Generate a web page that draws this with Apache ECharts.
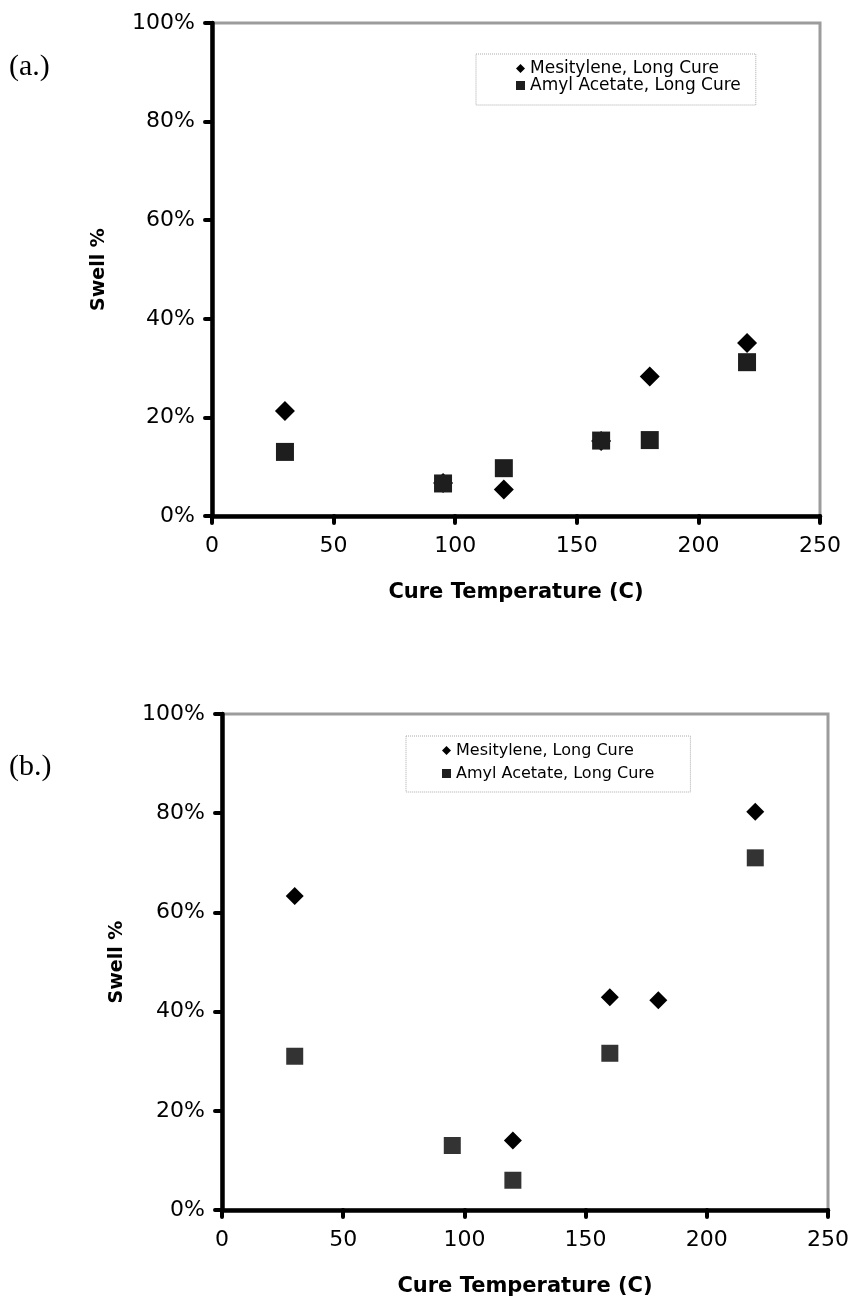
<!DOCTYPE html>
<html>
<head>
<meta charset="utf-8">
<script src="https://cdn.jsdelivr.net/npm/echarts@6/dist/echarts.min.js"></script>
<style>
  html, body { margin: 0; padding: 0; background: #fff; }
  #chart { width: 857px; height: 1298px; }
</style>
</head>
<body>
<div id="chart"></div>
<script>
// ---- data ----
const seriesNames = ['Mesitylene, Long Cure', 'Amyl Acetate, Long Cure'];
const xTicks = [0, 50, 100, 150, 200, 250];
const yTicks = [0, 20, 40, 60, 80, 100];

// (a.)
const aMesTemps  = [30, 95, 120, 160, 180, 220];
const aMesSwell  = [21.3, 6.7, 5.4, 15.2, 28.3, 35.1];
const aAmylTemps = [30, 95, 120, 160, 180, 220];
const aAmylSwell = [13.0, 6.6, 9.7, 15.3, 15.4, 31.2];

// (b.)
const bMesTemps  = [30, 120, 160, 180, 220];
const bMesSwell  = [63.3, 14.0, 42.9, 42.3, 80.3];
const bAmylTemps = [30, 95, 120, 160, 220];
const bAmylSwell = [31.0, 13.0, 6.0, 31.6, 71.0];

const pairs = (xs, ys) => xs.map((x, i) => [x, ys[i]]);

const FONT = 'DejaVu Sans';

function xAxisFor(gridIndex) {
  return {
    gridIndex, type: 'value',
    min: xTicks[0], max: xTicks[xTicks.length - 1], interval: xTicks[1] - xTicks[0],
    name: 'Cure Temperature (C)', nameLocation: 'middle', nameGap: 66,
    nameTextStyle: { fontFamily: FONT, fontWeight: 'bold', fontSize: 21, color: '#000' },
    axisLine: { show: true, lineStyle: { color: '#000', width: 4.5 } },
    axisTick: { show: true, length: 7, lineStyle: { color: '#000', width: 4, cap: 'round' } },
    axisLabel: { fontFamily: FONT, fontSize: 22, color: '#000', margin: 19 },
    splitLine: { show: false }
  };
}
function yAxisFor(gridIndex, nameGap) {
  return {
    gridIndex, type: 'value',
    min: yTicks[0], max: yTicks[yTicks.length - 1], interval: yTicks[1] - yTicks[0],
    name: 'Swell %', nameLocation: 'middle', nameGap, nameRotate: 90,
    nameTextStyle: { fontFamily: FONT, fontWeight: 'bold', fontSize: 19, color: '#000' },
    axisLine: { show: true, lineStyle: { color: '#000', width: 4.5 } },
    axisTick: { show: true, length: 7, lineStyle: { color: '#000', width: 4, cap: 'round' } },
    axisLabel: { fontFamily: FONT, fontSize: 22, color: '#000', margin: 17, formatter: '{value}%' },
    splitLine: { show: false }
  };
}
function legendFor(pos, fontSize, gap, padding) {
  return Object.assign({
    orient: 'vertical',
    itemWidth: 9, itemHeight: 9, itemGap: gap,
    padding,
    borderColor: '#aaa', borderWidth: 1, borderType: 'dotted',
    backgroundColor: '#fff',
    textStyle: { fontFamily: FONT, fontSize, color: '#000', lineHeight: 17 },
    data: [
      { name: seriesNames[0], icon: 'diamond' },
      { name: seriesNames[1], icon: 'rect' }
    ],
    selectedMode: false
  }, pos);
}

const chart = echarts.init(document.getElementById('chart'), null, { renderer: 'canvas' });
chart.setOption({
  animation: false,
  backgroundColor: '#fff',
  grid: [
    { left: 212, right: 37, top: 23, height: 493, show: true, borderColor: '#9c9c9c', borderWidth: 3 },
    { left: 222, right: 29, top: 714, height: 497, show: true, borderColor: '#9c9c9c', borderWidth: 3 }
  ],
  xAxis: [xAxisFor(0), xAxisFor(1)],
  yAxis: [yAxisFor(0, 103), yAxisFor(1, 95)],
  legend: [
    legendFor({ left: 476, top: 54 }, 17, 0, [6, 15, 11, 40]),
    legendFor({ left: 406, top: 736 }, 16, 6, [6, 36, 10, 36])
  ],
  graphic: [
    { type: 'text', left: 9, top: 52, style: { text: '(a.)', font: '30px "Liberation Serif"', fill: '#000' } },
    { type: 'text', left: 9, top: 752, style: { text: '(b.)', font: '30px "Liberation Serif"', fill: '#000' } }
  ],
  series: [
    { name: seriesNames[0], type: 'scatter', xAxisIndex: 0, yAxisIndex: 0, symbol: 'diamond', symbolSize: 20,
      itemStyle: { color: '#000', opacity: 1 }, data: pairs(aMesTemps, aMesSwell) },
    { name: seriesNames[1], type: 'scatter', xAxisIndex: 0, yAxisIndex: 0, symbol: 'rect', symbolSize: 18,
      itemStyle: { color: '#1e1e1e', opacity: 1 }, data: pairs(aAmylTemps, aAmylSwell) },
    { name: seriesNames[0], type: 'scatter', xAxisIndex: 1, yAxisIndex: 1, symbol: 'diamond', symbolSize: 18,
      itemStyle: { color: '#000', opacity: 1 }, data: pairs(bMesTemps, bMesSwell) },
    { name: seriesNames[1], type: 'scatter', xAxisIndex: 1, yAxisIndex: 1, symbol: 'rect', symbolSize: 17,
      itemStyle: { color: '#333', opacity: 1 }, data: pairs(bAmylTemps, bAmylSwell) }
  ]
});
</script>
</body>
</html>
